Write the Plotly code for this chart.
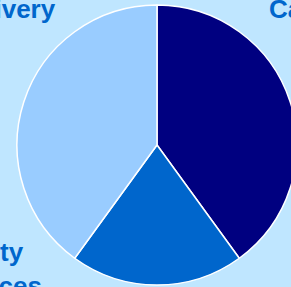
import plotly.graph_objects as go

labels = ["Capacity", "Quality<br>Services", "Delivery"]
values = [40, 20, 40]
colors = ["#000080", "#0066CC", "#99CCFF"]

W, H = 314, 287
fig = go.Figure(go.Pie(
    labels=labels, values=values, sort=False, direction="clockwise", rotation=0,
    marker=dict(colors=colors, line=dict(color="white", width=1.5)),
    textinfo="none", hoverinfo="label+percent", showlegend=False,
    domain=dict(x=[0, 1], y=[2/287, 282/287]),
))

def px(x): return x / W
def py(y): return 1 - y / H

font = dict(family="Liberation Sans, Arial, sans-serif", size=26, color="#0066CC")
ann = [
    dict(text="<b>%s</b>" % labels[2], x=px(58), y=py(-8), xanchor="right", yanchor="top", align="right"),
    dict(text="<b>%s</b>" % labels[0], x=px(267), y=py(-8), xanchor="left", yanchor="top", align="left"),
    dict(text="<b>%s</b>" % labels[1], x=px(-67), y=py(235), xanchor="left", yanchor="top", align="left"),
]
for a in ann:
    a.update(xref="paper", yref="paper", showarrow=False, font=font)

fig.update_layout(
    width=W, height=H, margin=dict(l=0, r=0, t=0, b=0),
    paper_bgcolor="#BFE6FF", plot_bgcolor="#BFE6FF",
    annotations=ann,
)
fig.write_html("out.html", config={"displayModeBar": False},
               post_script="document.body.style.margin='0';document.body.style.overflow='hidden';document.body.style.background='#BFE6FF';")
